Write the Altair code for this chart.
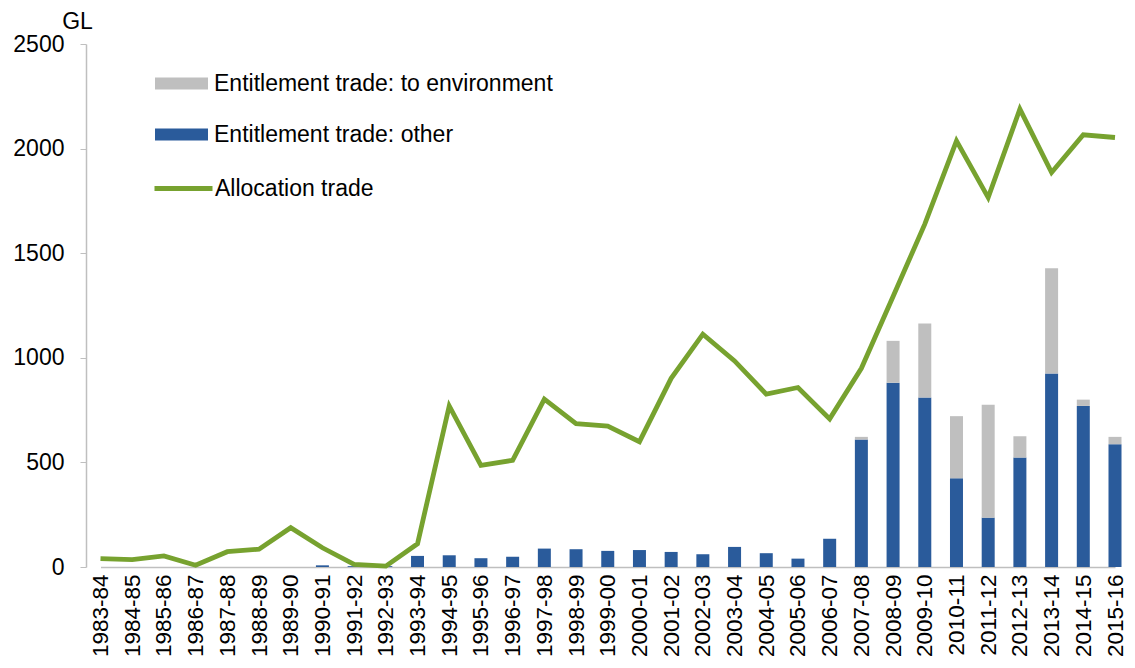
import altair as alt
import pandas as pd

years = ["1983-84", "1984-85", "1985-86", "1986-87", "1987-88", "1988-89", "1989-90",
         "1990-91", "1991-92", "1992-93", "1993-94", "1994-95", "1995-96", "1996-97",
         "1997-98", "1998-99", "1999-00", "2000-01", "2001-02", "2002-03", "2003-04",
         "2004-05", "2005-06", "2006-07", "2007-08", "2008-09", "2009-10", "2010-11",
         "2011-12", "2012-13", "2013-14", "2014-15", "2015-16"]

allocation = [40, 35, 53, 8, 73, 85, 188, 92, 13, 4, 111, 770, 486, 510, 802, 685, 674,
              599, 902, 1113, 985, 826, 858, 708, 950, 1293, 1639, 2037, 1766, 2189,
              1886, 2066, 2053]

ent_other = [0, 0, 0, 0, 0, 0, 0, 8, 4, 4, 53, 56, 42, 49, 88, 85, 77, 81, 72, 61, 96,
             66, 40, 135, 609, 881, 810, 424, 236, 523, 925, 770, 587]

ent_env = [0, 0, 0, 0, 0, 0, 0, 0, 0, 0, 0, 0, 0, 0, 0, 0, 0, 0, 0, 0, 0, 0, 0, 0,
           13, 200, 354, 297, 539, 102, 503, 30, 35]

ENV = "Entitlement trade: to environment"
OTH = "Entitlement trade: other"
ALLOC = "Allocation trade"

BLUE = "#2A5B9B"
GREY = "#BFBFBF"
GREEN = "#77A22F"
FONT = "Liberation Sans"

bars_df = pd.DataFrame(
    [{"year": y, "type": OTH, "value": v, "ord": 0} for y, v in zip(years, ent_other)]
    + [{"year": y, "type": ENV, "value": v, "ord": 1} for y, v in zip(years, ent_env)]
)
line_df = pd.DataFrame({"year": years, "value": allocation, "series": ALLOC})

xscale = alt.Scale(type="point", domain=years, range=[14.5, 1029], padding=0)
yscale = alt.Scale(domain=[0, 2500], nice=False)

x_enc = alt.X("year:N", scale=xscale, sort=years,
              axis=alt.Axis(title=None, labelAngle=270, labelAlign="right",
                            labelBaseline="middle", labelPadding=7, ticks=False,
                            labelFontSize=22.5, labelFont=FONT, labelColor="#000000",
                            domainColor="#BFBFBF", domainWidth=1.5, labelOverlap=False))

y_axis = alt.Axis(values=[0, 500, 1000, 1500, 2000, 2500], grid=False, format="d",
                  title="GL", titleAngle=0, titleX=-9, titleY=-16, titleAlign="center",
                  titleBaseline="alphabetic", titleFontSize=23, titleFont=FONT,
                  titleFontWeight="normal", titleColor="#000000",
                  labelFontSize=23, labelFont=FONT, labelColor="#000000", labelPadding=16,
                  tickSize=6, tickColor="#BFBFBF", domainColor="#BFBFBF", domainWidth=1.5)

rect_path = "M-1,-0.23H1V0.23H-1Z"

bars = alt.Chart(bars_df).mark_bar(size=13).encode(
    x=x_enc,
    y=alt.Y("value:Q", stack="zero", scale=yscale, axis=y_axis),
    color=alt.Color("type:N", scale=alt.Scale(domain=[ENV, OTH], range=[GREY, BLUE]),
                    legend=alt.Legend(title=None, orient="none", legendX=69, legendY=13,
                                      symbolType=rect_path, symbolSize=2809,
                                      symbolStrokeWidth=0, symbolOpacity=1,
                                      labelFontSize=23, labelFont=FONT, labelColor="#000000",
                                      labelOffset=6, padding=0, rowPadding=12,
                                      labelLimit=500)),
    order=alt.Order("ord:Q"),
)

line = alt.Chart(line_df).mark_line(strokeWidth=4.8, strokeJoin="miter").encode(
    x=alt.X("year:N", scale=xscale, sort=years),
    y=alt.Y("value:Q", scale=yscale),
    stroke=alt.Stroke("series:N", scale=alt.Scale(domain=[ALLOC], range=[GREEN]),
                      legend=alt.Legend(title=None, orient="none", legendX=66, legendY=113,
                                        symbolType="stroke", symbolSize=3364,
                                        symbolStrokeWidth=5, symbolOpacity=1,
                                        labelFontSize=23, labelFont=FONT,
                                        labelColor="#000000", labelOffset=0, padding=0,
                                        labelLimit=500)),
)

chart = alt.layer(bars, line).properties(
    width=1033, height=523,
    autosize=alt.AutoSizeParams(type="none"),
    padding={"left": 78, "top": 36, "right": 8, "bottom": 92},
).configure_view(stroke=None)

chart.save("out.html", embed_options={"renderer": "svg", "actions": False})
